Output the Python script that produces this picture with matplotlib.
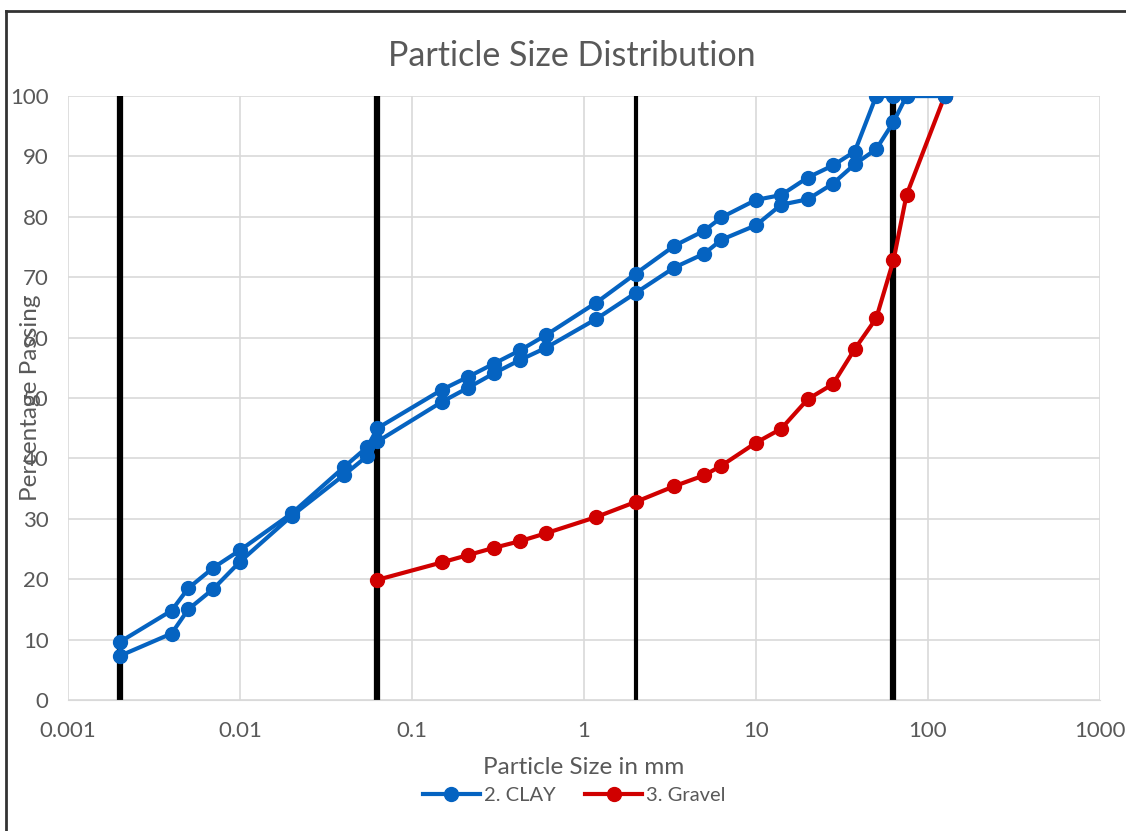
import matplotlib.pyplot as plt
from matplotlib.lines import Line2D

plt.rcParams['font.family'] = ['Lato', 'DejaVu Sans']

# sieve sizes in mm
size_clay = [0.002, 0.004, 0.005, 0.007, 0.01, 0.02, 0.04, 0.055, 0.063, 0.15, 0.212, 0.3,
             0.425, 0.6, 1.18, 2, 3.35, 5, 6.3, 10, 14, 20, 28, 37.5, 50, 63, 75, 125]
clay_a = [9.6, 14.8, 18.5, 21.9, 24.8, 30.9, 38.5, 41.9, 45.0, 51.4, 53.5, 55.7,
          57.9, 60.4, 65.8, 70.6, 75.2, 77.7, 79.9, 82.8, 83.6, 86.5, 88.5, 90.8, 100, 100, 100, 100]
clay_b = [7.3, 11.0, 15.0, 18.4, 22.9, 30.5, 37.2, 40.4, 42.8, 49.4, 51.7, 54.1,
          56.3, 58.3, 63.1, 67.4, 71.6, 73.9, 76.2, 78.6, 82.0, 82.9, 85.5, 88.7, 91.2, 95.7, 100, 100]

size_gravel = [0.063, 0.15, 0.212, 0.3, 0.425, 0.6, 1.18, 2, 3.35, 5, 6.3, 10, 14, 20, 28,
               37.5, 50, 63, 75, 125]
gravel = [19.9, 22.8, 24.0, 25.2, 26.3, 27.6, 30.3, 32.8, 35.4, 37.2, 38.8, 42.6, 44.9, 49.8,
          52.3, 58.1, 63.2, 72.8, 83.6, 100]

# boundaries clay/silt/sand/gravel/cobbles
bounds = [0.002, 0.063, 2, 63]
bound_widths = [4.5, 4.5, 3, 4.5]

blue = '#0563C1'
red = '#D00000'
grey = '#595959'

fig = plt.figure(figsize=(11.26, 8.31), dpi=100)
ax = fig.add_axes([68 / 1126, 131 / 831, 1032 / 1126, 604 / 831])

for b, w in zip(bounds, bound_widths):
    ax.plot([b, b], [0, 100], color='black', lw=w, zorder=2, solid_capstyle='butt')

ax.plot(size_gravel, gravel, color=red, lw=3, marker='o', ms=10, zorder=3)
ax.plot(size_clay, clay_b, color=blue, lw=3, marker='o', ms=10, zorder=4)
ax.plot(size_clay, clay_a, color=blue, lw=3, marker='o', ms=10, zorder=4)

ax.set_xscale('log')
ax.set_xlim(0.001, 1000)
ax.set_ylim(0, 100)
ax.set_xticks([0.001, 0.01, 0.1, 1, 10, 100, 1000])
ax.set_xticklabels(['0.001', '0.01', '0.1', '1', '10', '100', '1000'])
ax.set_yticks(range(0, 101, 10))
ax.minorticks_off()
ax.grid(True, color='#D9D9D9', lw=1.2)
ax.set_axisbelow(True)
for s in ['top', 'right', 'left']:
    ax.spines[s].set_visible(False)
ax.spines['bottom'].set_color('#D9D9D9')
ax.tick_params(length=0, labelsize=16, labelcolor=grey)
ax.tick_params(axis='y', pad=14)
ax.tick_params(axis='x', pad=15)

fig.text(572 / 1126, 1 - 56 / 831, 'Particle Size Distribution', fontsize=24.5, color=grey,
         ha='center', va='center')
ax.set_xlabel('Particle Size in mm', fontsize=17.5, color=grey)
ax.xaxis.set_label_coords(0.5, -0.094)
# the label sits over the tick numbers, as in the source chart
ax.set_ylabel('Percentage Passing', fontsize=17.5, color=grey)
ax.yaxis.set_label_coords(-0.026, 0.5)

handles = [Line2D([], [], color=blue, lw=3, marker='o', ms=10),
           Line2D([], [], color=red, lw=3, marker='o', ms=10)]
fig.legend(handles, ['2. CLAY', '3. Gravel'], loc='center', bbox_to_anchor=(0.51, 0.043),
           ncol=2, frameon=False, fontsize=14.5, labelcolor=grey, handlelength=2.8,
           handletextpad=0.2, columnspacing=1.5)

# screenshot frame
fig.add_artist(Line2D([6 / 1126, 6 / 1126], [0, 1 - 11 / 831], color='#333333', lw=2,
                      transform=fig.transFigure))
fig.add_artist(Line2D([6 / 1126, 1], [1 - 11 / 831, 1 - 11 / 831], color='#333333', lw=2,
                      transform=fig.transFigure))

fig.savefig('out.png', dpi=100)
